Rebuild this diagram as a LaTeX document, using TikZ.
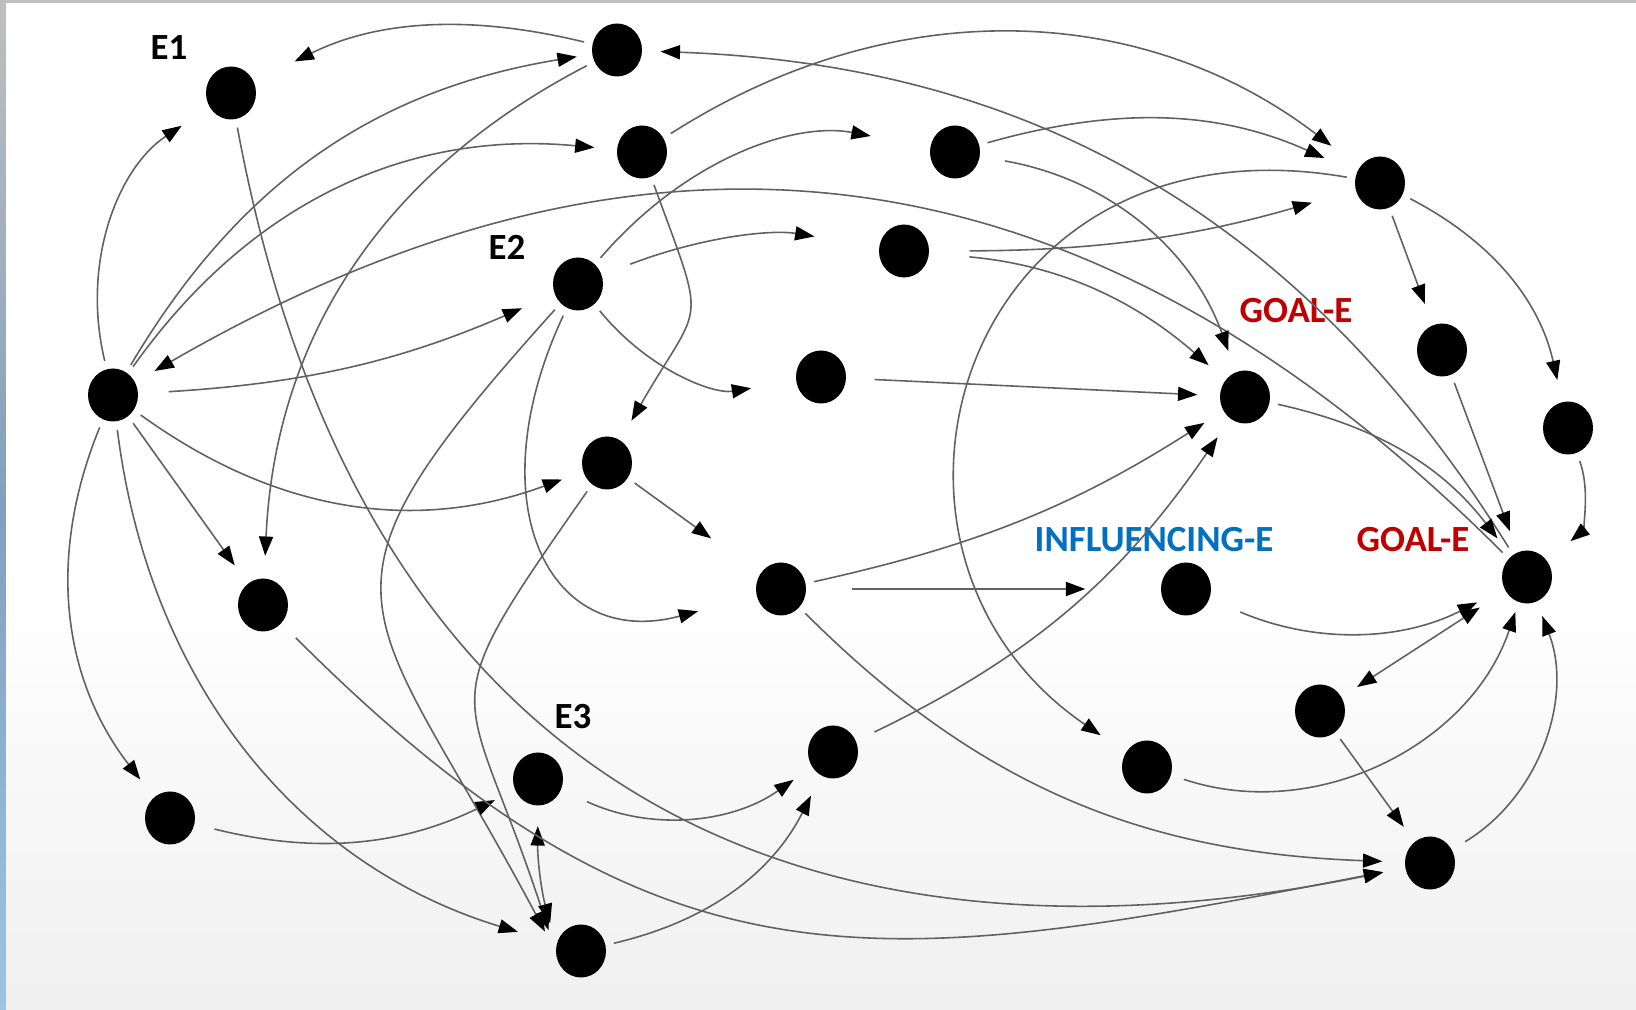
\documentclass[tikz,border=0pt]{standalone}
\usepackage{fontspec}
\setmainfont{Carlito}
\usetikzlibrary{arrows.meta, shapes.geometric}
\definecolor{goalred}{RGB}{192,0,0}
\definecolor{inflblue}{RGB}{0,112,192}
\definecolor{edgeblue}{RGB}{157,195,230}
\tikzset{
    ent/.style={ellipse, fill=black, inner sep=0pt,
        minimum width=0.5cm, minimum height=0.53cm},
    link/.style={draw=black!62, line width=0.45pt, ->,
        >={Triangle[length=5.5pt, width=4pt, color=black]},
        shorten >=0.22cm, shorten <=0.08cm},
    lab/.style={font=\bfseries\fontsize{10.5}{12}\selectfont, inner sep=0pt}
}
\begin{document}
\begin{tikzpicture}

\useasboundingbox (0,0) rectangle (16.36,10.10);

% Fondo y bordes.
\fill[white] (0,0) rectangle (16.36,10.10);
\shade[top color=white, bottom color=black!6] (0,0) rectangle (16.36,4.2);
\shade[top color=black!25, bottom color=edgeblue, middle color=black!18!edgeblue]
    (0,0) rectangle (0.06,10.10);
\fill[black!25] (0.06,10.07) rectangle (16.36,10.10);

% Entidades.
\node[ent] (S) at (1.13,6.15) {};
\node[ent] (E1) at (2.31,9.17) {};
\node[ent] (T) at (6.17,9.60) {};
\node[ent] (A) at (6.42,8.58) {};
\node[ent] (B) at (9.55,8.58) {};
\node[ent] (C) at (13.80,8.27) {};
\node[ent] (E2) at (5.78,7.26) {};
\node[ent] (D) at (9.04,7.59) {};
\node[ent] (E) at (8.21,6.33) {};
\node[ent] (G1) at (12.45,6.13) {};
\node[ent] (F) at (14.42,6.60) {};
\node[ent] (R) at (15.68,5.82) {};
\node[ent] (H) at (6.07,5.47) {};
\node[ent] (I) at (2.63,4.05) {};
\node[ent] (J) at (7.81,4.21) {};
\node[ent] (IE) at (11.86,4.21) {};
\node[ent] (G2) at (15.27,4.33) {};
\node[ent] (K) at (13.20,2.99) {};
\node[ent] (L) at (11.47,2.43) {};
\node[ent] (M) at (8.33,2.58) {};
\node[ent] (E3) at (5.38,2.31) {};
\node[ent] (N) at (1.70,1.92) {};
\node[ent] (O) at (5.81,0.59) {};
\node[ent] (P) at (14.30,1.47) {};

% Etiquetas.
\node[lab] (lE1) at (1.69,9.62) {E1};
\node[lab] (lE2) at (5.07,7.63) {E2};
\node[lab] (lE3) at (5.73,2.93) {E3};
\node[lab, text=goalred] (lG1) at (12.96,6.99) {GOAL-E};
\node[lab, text=inflblue] (lIE) at (11.54,4.70) {INFLUENCING-E};
\node[lab, text=goalred] (lG2) at (14.13,4.70) {GOAL-E};

% Relaciones desde la entidad de la izquierda.
\draw[link, shorten >=0.33cm] (S) to[bend left=35] (E1);
\draw[link, shorten >=0.15cm] (S) to[bend left=25] (T);
\draw[link] (S) to[bend left=30] (A);
\draw[link, shorten <=0.3cm, shorten >=0.35cm] (S) to[bend right=10] (E2);
\draw[link] (S) to[bend right=28] (H);
\draw[link] (S) -- (I);
\draw[link] (S) to[bend right=30] (N);
\draw[link, shorten >=0.4cm] (S) to[bend right=33] (O);
\draw[link] (G2) to[out=135, in=30, looseness=1.1] (S);

% Parte superior.
\draw[link, shorten >=0.45cm] (T) to[bend right=20] (E1);
\draw[link] (T) to[bend right=30] (I);
\draw[link, shorten >=0.18cm] (G2) to[bend right=28] (T);
\draw[link, shorten >=0.35cm] (A) to[bend left=35] (C);
\draw[link] (A) to[out=-70, in=60, looseness=1.6] (H);
\draw[link, shorten >=0.35cm] (B) to[bend left=20] (C);
\draw[link, shorten <=0.25cm] (B) to[bend left=30] (G1);
\draw[link, shorten <=0.4cm, shorten >=0.45cm] (D) to[bend right=8] (C);
\draw[link, shorten <=0.4cm] (D) to[bend left=18] (G1);

% Desde E2.
\draw[link, shorten >=0.6cm] (E2) to[bend left=30] (B);
\draw[link, shorten <=0.3cm, shorten >=0.65cm] (E2) to[bend left=15] (D);
\draw[link, shorten >=0.45cm] (E2) to[bend right=30] (E);
\draw[link] (E2) to[out=228, in=118, looseness=1.6] (O.west);
\draw[link, shorten >=0.6cm] (E2) to[out=245, in=195, looseness=1.6] (J);

% Centro.
\draw[link, shorten <=0.28cm] (E) -- (G1);
\draw[link, shorten >=0.6cm] (H) -- (J);
\draw[link] (H) to[out=235, in=108, looseness=1.6] (O.west);
\draw[link] (J) to[bend right=10] (G1);
\draw[link, shorten <=0.45cm, shorten >=0.75cm] (J) -- (IE);
\draw[link] (J) to[out=-45, in=178] (P);
\draw[link, shorten <=0.2cm] (M) to[bend right=15] (G1);

% Parte inferior.
\draw[link, shorten <=0.28cm] (E3) to[bend right=30] (M);
\draw[link] (O) to[bend right=25] (M);
\draw[link, <->, shorten <=0.2cm] (E3.south) to[bend right=8] (O.165);
\draw[link, shorten <=0.2cm] (N) to[bend right=20] (E3);
\draw[link] (E1) .. controls (3.6,2.2) and (8.0,0.2) .. (P);
\draw[link, shorten <=0.2cm] (I) to[out=-45, in=191, looseness=1.2] (P);

% Hacia los objetivos.
\draw[link, shorten >=0.3cm] (C) .. controls (9.6,9.0) and (8.3,4.6) .. (L);
\draw[link] (C) -- (F);
\draw[link] (C) to[bend left=25] (R);
\draw[link] (F) -- (G2);
\draw[link, shorten >=0.3cm] (R) to[bend left=35] (G2);
\draw[link] (G1) to[bend left=20] (G2);
\draw[link, shorten <=0.33cm, shorten >=0.3cm] (IE) to[bend right=25] (G2);
\draw[link, <->, shorten <=0.18cm, shorten >=0.3cm] (K) -- (G2);
\draw[link, shorten >=0.18cm] (K) -- (P);
\draw[link, shorten <=0.13cm, shorten >=0.1cm] (L) to[bend right=45] (G2);
\draw[link, shorten <=0.15cm, shorten >=0.15cm] (P) to[bend right=40] (G2);

\end{tikzpicture}
\end{document}
